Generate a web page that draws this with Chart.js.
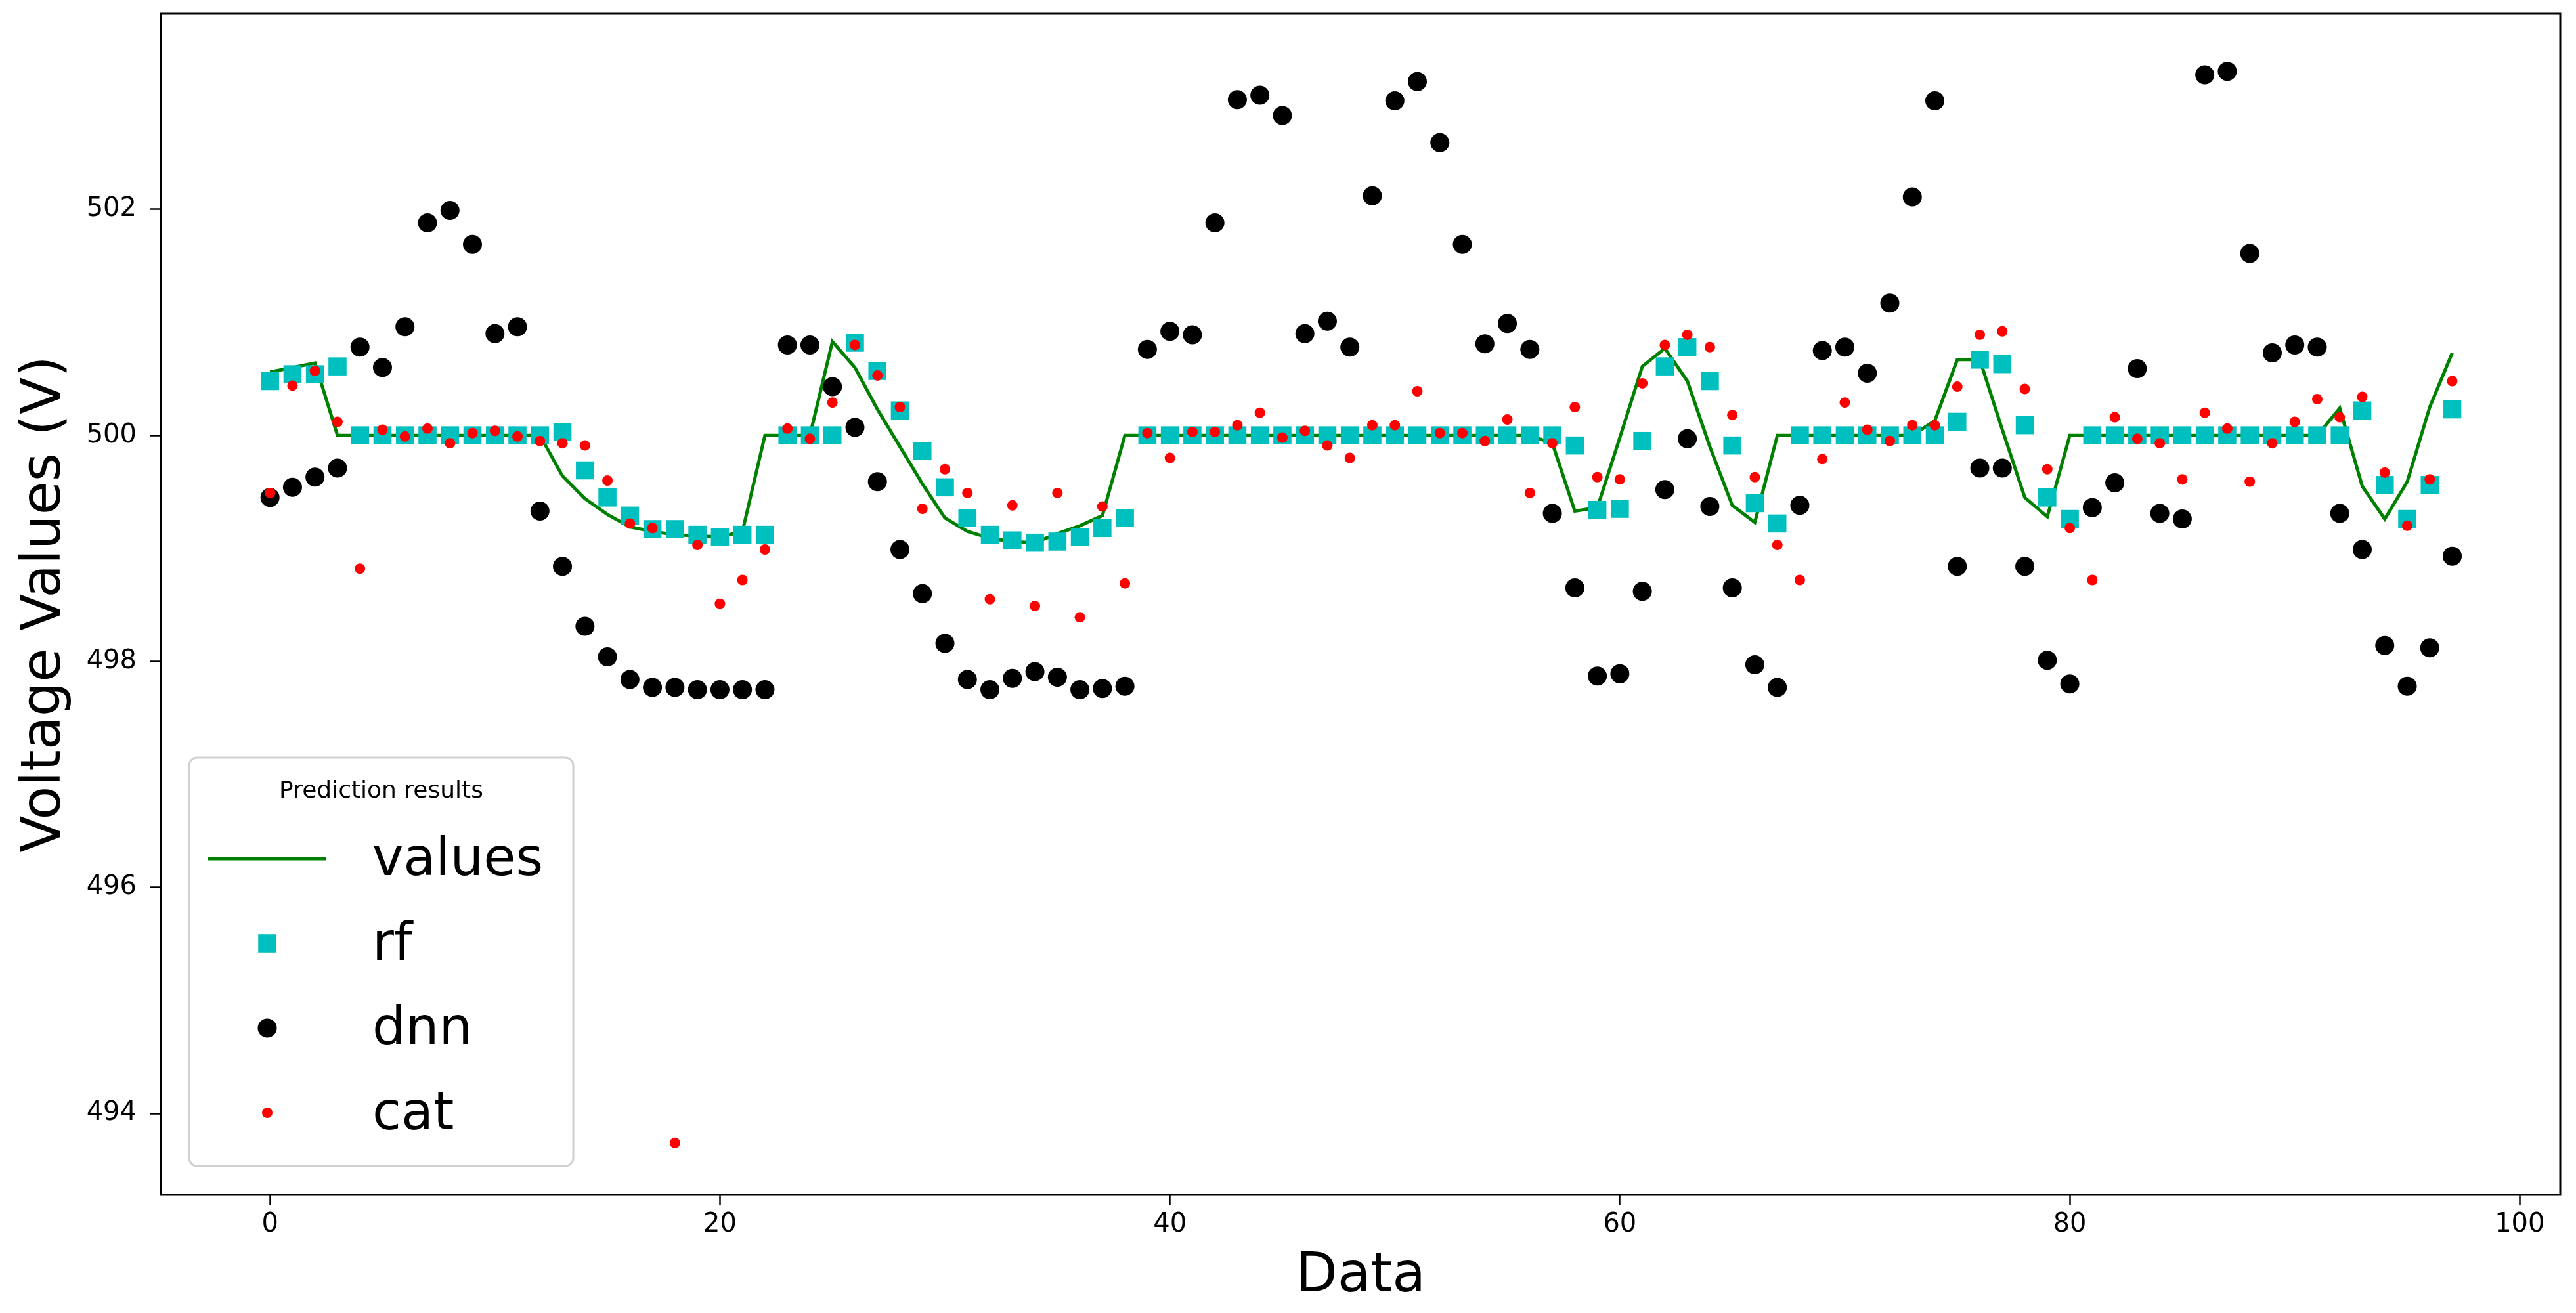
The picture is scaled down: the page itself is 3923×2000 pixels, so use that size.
<!DOCTYPE html>
<html lang="en">
<head>
  <meta charset="UTF-8">
  <title>Prediction results</title>
  <style>
    html, body { margin: 0; padding: 0; background: #fff; }
    #chartContainer { width: 3923px; height: 2000px; }
  </style>
</head>
<body>
  <div id="chartContainer">
    <canvas id="myChart" width="3923" height="2000"></canvas>
  </div>

  <script src="https://cdn.jsdelivr.net/npm/chart.js@4.4.2/dist/chart.umd.min.js"></script>
  <script>
    // values, index 0..97
    const values = [
      500.56, 500.60, 500.64, 500.00, 500.00, 500.00, 500.00, 500.00, 500.00, 500.00,
      500.00, 500.00, 500.00, 499.64, 499.44, 499.30, 499.19, 499.15, 499.12, 499.11,
      499.10, 499.15, 500.00, 500.00, 500.00, 500.83, 500.60, 500.23, 499.90, 499.57,
      499.27, 499.15, 499.09, 499.06, 499.05, 499.13, 499.20, 499.29, 500.00, 500.00,
      500.00, 500.00, 500.00, 500.00, 500.00, 500.00, 500.00, 500.00, 500.00, 500.00,
      500.00, 500.00, 500.00, 500.00, 500.00, 500.00, 500.00, 499.93, 499.33, 499.36,
      499.98, 500.61, 500.77, 500.48, 499.90, 499.38, 499.23, 500.00, 500.00, 500.00,
      500.00, 500.00, 500.00, 500.00, 500.13, 500.67, 500.67, 500.05, 499.45, 499.28,
      500.00, 500.00, 500.00, 500.00, 500.00, 500.00, 500.00, 500.00, 500.00, 500.00,
      500.00, 500.00, 500.24, 499.55, 499.26, 499.59, 500.25, 500.73
    ];
    const rf = [
      500.48, 500.54, 500.54, 500.61, 500.00, 500.00, 500.00, 500.00, 500.00, 500.00,
      500.00, 500.00, 500.00, 500.03, 499.69, 499.45, 499.29, 499.17, 499.17, 499.12,
      499.10, 499.12, 499.12, 500.00, 500.00, 500.00, 500.82, 500.57, 500.22, 499.86,
      499.54, 499.27, 499.12, 499.07, 499.05, 499.06, 499.10, 499.18, 499.27, 500.00,
      500.00, 500.00, 500.00, 500.00, 500.00, 500.00, 500.00, 500.00, 500.00, 500.00,
      500.00, 500.00, 500.00, 500.00, 500.00, 500.00, 500.00, 500.00, 499.91, 499.34,
      499.35, 499.95, 500.61, 500.78, 500.48, 499.91, 499.40, 499.22, 500.00, 500.00,
      500.00, 500.00, 500.00, 500.00, 500.00, 500.12, 500.67, 500.63, 500.09, 499.45,
      499.26, 500.00, 500.00, 500.00, 500.00, 500.00, 500.00, 500.00, 500.00, 500.00,
      500.00, 500.00, 500.00, 500.22, 499.56, 499.26, 499.56, 500.23
    ];
    const dnn = [
      499.45, 499.54, 499.63, 499.71, 500.78, 500.60, 500.96, 501.88, 501.99, 501.69,
      500.90, 500.96, 499.33, 498.84, 498.31, 498.04, 497.84, 497.77, 497.77, 497.75,
      497.75, 497.75, 497.75, 500.80, 500.80, 500.43, 500.07, 499.59, 498.99, 498.60,
      498.16, 497.84, 497.75, 497.85, 497.91, 497.86, 497.75, 497.76, 497.78, 500.76,
      500.92, 500.89, 501.88, 502.97, 503.01, 502.83, 500.90, 501.01, 500.78, 502.12,
      502.96, 503.13, 502.59, 501.69, 500.81, 500.99, 500.76, 499.31, 498.65, 497.87,
      497.89, 498.62, 499.52, 499.97, 499.37, 498.65, 497.97, 497.77, 499.38, 500.75,
      500.78, 500.55, 501.17, 502.11, 502.96, 498.84, 499.71, 499.71, 498.84, 498.01,
      497.80, 499.36, 499.58, 500.59, 499.31, 499.26, 503.19, 503.22, 501.61, 500.73,
      500.80, 500.78, 499.31, 498.99, 498.14, 497.78, 498.12, 498.93
    ];
    const cat = [
      499.49, 500.44, 500.57, 500.12, 498.82, 500.05, 499.99, 500.06, 499.93, 500.02,
      500.04, 499.99, 499.95, 499.93, 499.91, 499.60, 499.22, 499.18, 493.74, 499.03,
      498.51, 498.72, 498.99, 500.06, 499.97, 500.29, 500.80, 500.53, 500.25, 499.35,
      499.70, 499.49, 498.55, 499.38, 498.49, 499.49, 498.39, 499.37, 498.69, 500.02,
      499.80, 500.03, 500.03, 500.09, 500.20, 499.98, 500.04, 499.91, 499.80, 500.09,
      500.09, 500.39, 500.02, 500.02, 499.95, 500.14, 499.49, 499.93, 500.25, 499.63,
      499.61, 500.46, 500.80, 500.89, 500.78, 500.18, 499.63, 499.03, 498.72, 499.79,
      500.29, 500.05, 499.95, 500.09, 500.09, 500.43, 500.89, 500.92, 500.41, 499.70,
      499.18, 498.72, 500.16, 499.97, 499.93, 499.61, 500.20, 500.06, 499.59, 499.93,
      500.12, 500.32, 500.16, 500.34, 499.67, 499.20, 499.61, 500.48
    ];
    const xTicks = [0, 20, 40, 60, 80, 100];
    const yTicks = [494, 496, 498, 500, 502];

    const FONT = "'DejaVu Sans', sans-serif";
    const toPoints = arr => arr.map((v, i) => ({ x: i, y: v }));

    // drop the label overflow padding chart.js adds, so the plot box is where we want it
    const noScalePadding = scale => {
      scale.paddingTop = 0;
      scale.paddingBottom = 0;
      scale.paddingLeft = 0;
      scale.paddingRight = 0;
    };

    // full black frame round the plot area (matplotlib spines)
    const framePlugin = {
      id: 'frame',
      afterDraw(chart) {
        const { ctx, chartArea: a } = chart;
        ctx.save();
        ctx.strokeStyle = '#000';
        ctx.lineWidth = 3;
        ctx.strokeRect(a.left, a.top, a.right - a.left, a.bottom - a.top);
        ctx.restore();
      }
    };

    // legend box inside the plot, lower left, with a small title
    const legendPlugin = {
      id: 'insideLegend',
      afterDatasetsDraw(chart) {
        const { ctx, chartArea: a } = chart;
        const boxX = a.left + 43, boxW = 585, boxH = 622;
        const boxY = a.bottom - 44 - boxH;
        ctx.save();
        ctx.beginPath();
        ctx.roundRect(boxX, boxY, boxW, boxH, 12);
        ctx.fillStyle = 'rgba(255,255,255,0.8)';
        ctx.fill();
        ctx.strokeStyle = '#d0d0d0';
        ctx.lineWidth = 3;
        ctx.stroke();

        ctx.fillStyle = '#000';
        ctx.textAlign = 'center';
        ctx.textBaseline = 'middle';
        ctx.font = '36px ' + FONT;
        ctx.fillText('Prediction results', boxX + boxW / 2, boxY + 52);

        const handleX = boxX + 119;
        ctx.font = '80px ' + FONT;
        ctx.textAlign = 'left';
        chart.data.datasets.forEach((ds, i) => {
          const y = boxY + 154 + i * 129;
          if (ds.showLine) {
            ctx.beginPath();
            ctx.moveTo(handleX - 90, y);
            ctx.lineTo(handleX + 90, y);
            ctx.strokeStyle = ds.borderColor;
            ctx.lineWidth = ds.borderWidth;
            ctx.stroke();
          } else {
            ctx.fillStyle = ds.backgroundColor;
            ctx.strokeStyle = ds.backgroundColor;
            Chart.helpers.drawPoint(ctx, {
              pointStyle: ds.pointStyle, radius: ds.pointRadius, borderWidth: 0, rotation: 0
            }, handleX, y);
          }
          ctx.fillStyle = '#000';
          ctx.fillText(ds.label, boxX + 279, y + 4);
        });
        ctx.restore();
      }
    };

    const ctx = document.getElementById('myChart').getContext('2d');
    const chart = new Chart(ctx, {
      type: 'scatter',
      data: {
        datasets: [
          {
            label: 'values', data: toPoints(values), showLine: true,
            borderColor: '#008000', borderWidth: 5, pointRadius: 0, tension: 0, order: 4
          },
          {
            label: 'rf', data: toPoints(rf), pointStyle: 'rect', pointRadius: 19.5,
            backgroundColor: '#00bfbf', borderColor: '#00bfbf', borderWidth: 0, order: 3
          },
          {
            label: 'dnn', data: toPoints(dnn), pointStyle: 'circle', pointRadius: 14.5,
            backgroundColor: '#000000', borderColor: '#000000', borderWidth: 0, order: 2
          },
          {
            label: 'cat', data: toPoints(cat), pointStyle: 'circle', pointRadius: 8,
            backgroundColor: '#ff0000', borderColor: '#ff0000', borderWidth: 0, order: 1
          }
        ]
      },
      options: {
        responsive: false,
        animation: false,
        devicePixelRatio: 1,
        layout: { padding: { top: 21, right: 24, left: 0, bottom: 0 } },
        plugins: {
          legend: { display: false },
          tooltip: { enabled: false }
        },
        scales: {
          x: {
            type: 'linear',
            min: -4.85,
            max: 101.8,
            afterBuildTicks: scale => { scale.ticks = xTicks.map(v => ({ value: v })); },
            afterFit: scale => { scale.height = 180; noScalePadding(scale); },
            ticks: { color: '#000', font: { family: FONT, size: 40 }, padding: 6, maxRotation: 0 },
            grid: { drawOnChartArea: false, drawTicks: true, tickLength: 16, tickColor: '#000', tickWidth: 2.5 },
            border: { display: false },
            title: { display: true, text: 'Data', color: '#000', font: { family: FONT, size: 83 }, padding: { top: 0, bottom: 5 } }
          },
          y: {
            type: 'linear',
            min: 493.28,
            max: 503.73,
            afterBuildTicks: scale => { scale.ticks = yTicks.map(v => ({ value: v })); },
            afterFit: scale => { scale.width = 245; noScalePadding(scale); },
            ticks: { color: '#000', font: { family: FONT, size: 40 }, padding: 21 },
            grid: { drawOnChartArea: false, drawTicks: true, tickLength: 16, tickColor: '#000', tickWidth: 2.5 },
            border: { display: false },
            title: { display: true, text: 'Voltage Values (V)', color: '#000', font: { family: FONT, size: 83 }, padding: { top: 20, bottom: 0 } }
          }
        }
      },
      plugins: [framePlugin, legendPlugin]
    });
  </script>
</body>
</html>
